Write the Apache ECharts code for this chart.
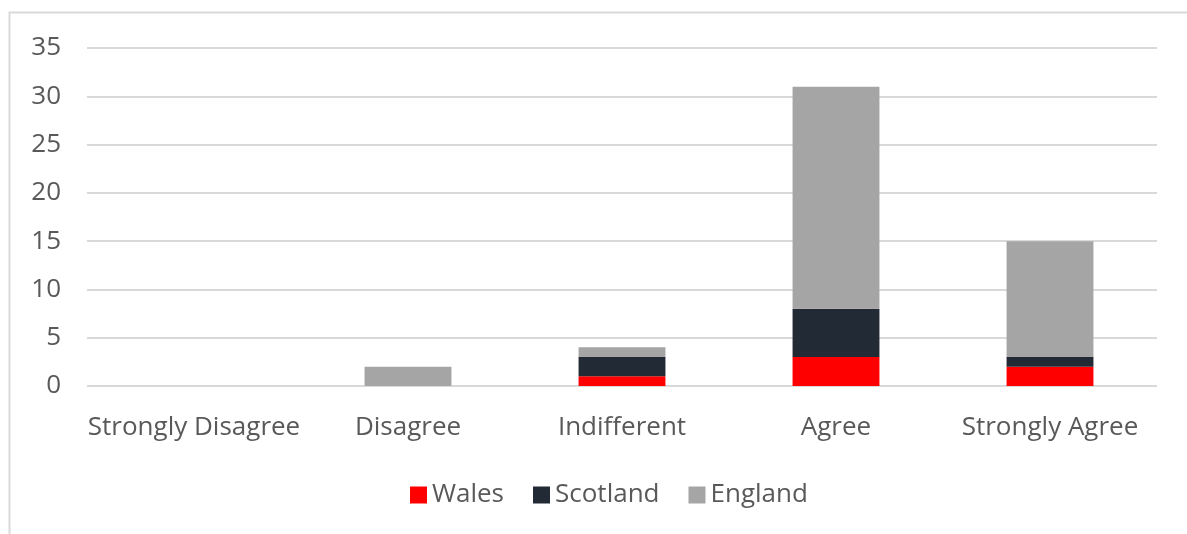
<!DOCTYPE html>
<html>
<head>
<meta charset="utf-8">
<script src="https://cdn.jsdelivr.net/npm/echarts@6/dist/echarts.min.js"></script>
<style>
  html, body { margin: 0; padding: 0; background: #fff; }
  #chart { width: 1187px; height: 534px; }
</style>
</head>
<body>
<div id="chart"></div>
<script>
// answers on the x axis
var categories = ['Strongly Disagree', 'Disagree', 'Indifferent', 'Agree', 'Strongly Agree'];
// counts per country (stacked)
var wales = [0, 0, 1, 3, 2];
var scotland = [0, 0, 2, 5, 1];
var england = [0, 2, 1, 23, 12];

var dom = document.getElementById('chart');
var myChart = echarts.init(dom);
var font = '"Open Sans", "Liberation Sans", sans-serif';

var option = {
  animation: false,
  textStyle: { fontFamily: font },
  graphic: [{
    // the frame of the chart, cut off at right and bottom
    type: 'rect',
    left: 7, top: 10,
    shape: { width: 1200, height: 540 },
    style: { fill: 'none', stroke: '#d9d9d9', lineWidth: 2 }
  }],
  grid: {
    left: 87,
    right: 30,
    top: 48,
    bottom: 148
  },
  legend: {
    top: 477,
    left: 405,
    itemWidth: 17,
    itemHeight: 17,
    itemGap: 29,
    icon: 'rect',
    textStyle: { color: '#595959', fontSize: 26, fontFamily: font },
    data: ['Wales', 'Scotland', 'England']
  },
  xAxis: {
    type: 'category',
    data: categories,
    axisLine: { show: false },
    axisTick: { show: false },
    axisLabel: { interval: 0, color: '#595959', fontSize: 26, margin: 29, fontFamily: font }
  },
  yAxis: {
    type: 'value',
    min: 0,
    max: 35,
    interval: 5,
    axisLine: { show: false },
    axisTick: { show: false },
    axisLabel: { color: '#595959', fontSize: 26, margin: 26, fontFamily: font },
    splitLine: { lineStyle: { color: '#d9d9d9', width: 2 } }
  },
  series: [{
    name: 'Wales',
    type: 'bar',
    stack: 'total',
    barWidth: '40.6%',
    itemStyle: { color: '#ff0000' },
    data: wales
  }, {
    name: 'Scotland',
    type: 'bar',
    stack: 'total',
    itemStyle: { color: '#222a35' },
    data: scotland
  }, {
    name: 'England',
    type: 'bar',
    stack: 'total',
    itemStyle: { color: '#a5a5a5' },
    data: england
  }]
};

if (option && typeof option === 'object') {
  myChart.setOption(option, true);
}
</script>
</body>
</html>
